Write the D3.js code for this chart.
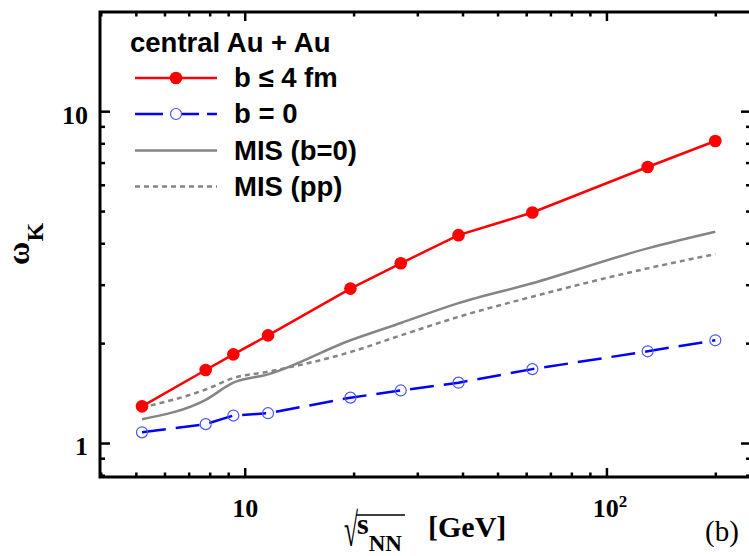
<!DOCTYPE html>
<html>
<head>
<meta charset="utf-8">
<script src="https://cdn.jsdelivr.net/npm/d3@7"></script>
<style>
  html, body { margin: 0; padding: 0; background: #fff; }
  svg { display: block; }
</style>
</head>
<body>
<svg id="chart" width="749" height="556"></svg>
<script>
// Collision energies sqrt(s_NN) [GeV]
const energies = [5.2, 7.8, 9.3, 11.6, 19.6, 27, 39, 62.4, 130, 200];
// Kaon scaled variance, central Au+Au, b <= 4 fm
const omegaCentral = [1.29, 1.66, 1.85, 2.11, 2.92, 3.48, 4.23, 4.95, 6.79, 8.13];
// Kaon scaled variance, b = 0
const omegaB0 = [1.077, 1.14, 1.21, 1.23, 1.37, 1.44, 1.52, 1.67, 1.89, 2.04];
// Model of independent sources, b = 0
const misB0 = [1.18, 1.35, 1.52, 1.61, 2.04, 2.30, 2.64, 3.03, 3.86, 4.33];
// Model of independent sources, pp input
const misPP = [1.28, 1.45, 1.57, 1.64, 1.88, 2.11, 2.40, 2.76, 3.36, 3.71];

const xMajor = [10, 100];
const xMinor = [4, 5, 6, 7, 8, 9, 20, 30, 40, 50, 60, 70, 80, 90, 200];
const yMajor = [1, 10];
const yMinor = [0.8, 0.9, 2, 3, 4, 5, 6, 7, 8, 9];

const legendTitle = "central Au + Au";
const legendLabels = ["b \u2264 4 fm", "b = 0", "MIS (b=0)", "MIS (pp)"];

const svg = d3.select("#chart");
const L = 100, R = 751, T = 12, B = 477;

const x = d3.scaleLog().domain([3.98, 251]).range([L, R]);
const y = d3.scaleLog().domain([0.79, 19.9]).range([B, T]);

const serif = "'Liberation Serif', 'Times New Roman', serif";
const sans = "'Liberation Sans', Arial, Helvetica, sans-serif";

// Axes with inward ticks on all four sides
function styleAxis(g) {
  g.select(".domain").remove();
  g.selectAll(".tick line").attr("stroke", "#000").attr("stroke-width", 2.5);
  g.selectAll("text").attr("font-family", serif).attr("font-weight", "bold")
    .attr("font-size", 26).attr("fill", "#000");
}

svg.append("g").attr("transform", `translate(0,${B})`)
  .call(d3.axisBottom(x).tickValues(xMinor).tickSize(-4.5).tickFormat(""))
  .call(styleAxis);
const xMajG = svg.append("g").attr("transform", `translate(0,${B})`)
  .call(d3.axisBottom(x).tickValues(xMajor).tickSize(-9).tickPadding(22).tickFormat(d => "10"))
  .call(styleAxis);
// exponent on the 10^2 label
xMajG.selectAll(".tick text").filter(d => d === 100)
  .append("tspan").attr("font-size", 17).attr("dy", "-0.6em").text("2");
xMajG.selectAll(".tick text").filter(d => d === 100).attr("dx", 3);

svg.append("g").attr("transform", `translate(0,${T})`)
  .call(d3.axisTop(x).tickValues(xMinor).tickSize(-4.5).tickFormat(""))
  .call(styleAxis);
svg.append("g").attr("transform", `translate(0,${T})`)
  .call(d3.axisTop(x).tickValues(xMajor).tickSize(-9).tickFormat(""))
  .call(styleAxis);

svg.append("g").attr("transform", `translate(${L},0)`)
  .call(d3.axisLeft(y).tickValues(yMinor).tickSize(-5).tickFormat(""))
  .call(styleAxis);
svg.append("g").attr("transform", `translate(${L},0)`)
  .call(d3.axisLeft(y).tickValues(yMajor).tickSize(-10).tickPadding(12).tickFormat(d3.format("d")))
  .call(styleAxis)
  .selectAll(".tick text").attr("dy", "0.46em");

svg.append("g").attr("transform", `translate(${R},0)`)
  .call(d3.axisRight(y).tickValues(yMinor).tickSize(-5).tickFormat(""))
  .call(styleAxis);
svg.append("g").attr("transform", `translate(${R},0)`)
  .call(d3.axisRight(y).tickValues(yMajor).tickSize(-10).tickFormat(""))
  .call(styleAxis);

// Frame
svg.append("rect").attr("x", L).attr("y", T).attr("width", R - L).attr("height", B - T)
  .attr("fill", "none").attr("stroke", "#000").attr("stroke-width", 3);

// Series
const pts = vals => energies.map((e, i) => [e, vals[i]]);
const straight = d3.line().x(d => x(d[0])).y(d => y(d[1]));
const smooth = d3.line().x(d => x(d[0])).y(d => y(d[1])).curve(d3.curveMonotoneX);

const plot = svg.append("g");

plot.append("path").datum(pts(misB0)).attr("d", smooth)
  .attr("fill", "none").attr("stroke", "#858585").attr("stroke-width", 2.5);
plot.append("path").datum(pts(misPP)).attr("d", smooth)
  .attr("fill", "none").attr("stroke", "#858585").attr("stroke-width", 2.5)
  .attr("stroke-dasharray", "5,4");

plot.append("path").datum(pts(omegaB0)).attr("d", straight)
  .attr("fill", "none").attr("stroke", "#0000ff").attr("stroke-width", 2.5)
  .attr("stroke-dasharray", "24,10");
plot.selectAll("circle.b0").data(pts(omegaB0)).join("circle").attr("class", "b0")
  .attr("cx", d => x(d[0])).attr("cy", d => y(d[1])).attr("r", 5.5)
  .attr("fill", "none").attr("stroke", "#4a55ff").attr("stroke-width", 1.2);

plot.append("path").datum(pts(omegaCentral)).attr("d", straight)
  .attr("fill", "none").attr("stroke", "#ff0000").attr("stroke-width", 2.5);
plot.selectAll("circle.cen").data(pts(omegaCentral)).join("circle").attr("class", "cen")
  .attr("cx", d => x(d[0])).attr("cy", d => y(d[1])).attr("r", 6.3)
  .attr("fill", "#ff0000");

// Legend
const leg = svg.append("g");
leg.append("text").attr("x", 130).attr("y", 52).attr("font-family", sans)
  .attr("font-weight", "bold").attr("font-size", 27.5).text(legendTitle);

const rows = [78, 114, 150.5, 186.5];
const lx0 = 135, lx1 = 217, lxm = 176;
leg.append("line").attr("x1", lx0).attr("x2", lx1).attr("y1", rows[0]).attr("y2", rows[0])
  .attr("stroke", "#ff0000").attr("stroke-width", 2.5);
leg.append("circle").attr("cx", lxm).attr("cy", rows[0]).attr("r", 6.3).attr("fill", "#ff0000");
leg.append("line").attr("x1", lx0).attr("x2", lx1).attr("y1", rows[1]).attr("y2", rows[1])
  .attr("stroke", "#0000ff").attr("stroke-width", 2.5).attr("stroke-dasharray", "28,8");
leg.append("circle").attr("cx", lxm).attr("cy", rows[1]).attr("r", 5.5)
  .attr("fill", "#fff").attr("stroke", "#4a55ff").attr("stroke-width", 1.2);
leg.append("line").attr("x1", lx0).attr("x2", lx1).attr("y1", rows[2]).attr("y2", rows[2])
  .attr("stroke", "#858585").attr("stroke-width", 2.5);
leg.append("line").attr("x1", lx0).attr("x2", lx1).attr("y1", rows[3]).attr("y2", rows[3])
  .attr("stroke", "#858585").attr("stroke-width", 2.5).attr("stroke-dasharray", "5,4");

legendLabels.forEach((t, i) => {
  leg.append("text").attr("x", 234).attr("y", rows[i] + 9).attr("font-family", sans)
    .attr("font-weight", "bold").attr("font-size", 27.5).text(t);
});

// Y-axis title: omega_K
const yt = svg.append("text").attr("transform", "translate(29,265) rotate(-90)")
  .attr("font-family", serif).attr("font-weight", "bold").attr("fill", "#000");
yt.append("tspan").attr("font-size", 32).text("\u03c9");
yt.append("tspan").attr("font-size", 24).attr("dy", 14).text("K");

// X-axis title: sqrt(s_NN) [GeV]
const xt = svg.append("g");
xt.append("text").attr("transform", "translate(344,546) scale(0.75,1.38)")
  .attr("font-family", serif).attr("font-size", 34).text("\u221a");
xt.append("line").attr("x1", 356).attr("x2", 405).attr("y1", 515).attr("y2", 515)
  .attr("stroke", "#000").attr("stroke-width", 1.5);
const xl = xt.append("text").attr("x", 357).attr("y", 534).attr("font-family", serif)
  .attr("font-weight", "bold").attr("font-size", 30);
xl.append("tspan").text("s");
xl.append("tspan").attr("font-size", 23).attr("dy", 17).text("NN");
xt.append("text").attr("x", 428).attr("y", 537).attr("font-family", serif)
  .attr("font-weight", "bold").attr("font-size", 30).text("[GeV]");

// Panel tag
svg.append("text").attr("x", 705).attr("y", 541).attr("font-family", serif)
  .attr("font-size", 29).text("(b)");
</script>
</body>
</html>
